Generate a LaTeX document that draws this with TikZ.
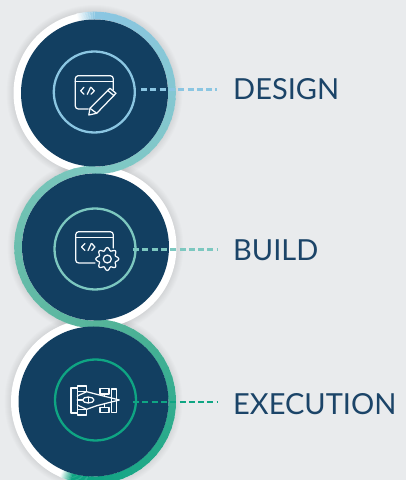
\documentclass[tikz,border=0pt]{standalone}
\usepackage{fontspec}
\setmainfont{Lato}
\usetikzlibrary{calc}
\definecolor{pagebg}{HTML}{E9EBED}
\definecolor{discblue}{HTML}{123F61}
\definecolor{labelblue}{HTML}{1B4468}
\definecolor{designcol}{HTML}{8BC6E2}
\definecolor{buildcol}{HTML}{7DC8C0}
\definecolor{midcol}{HTML}{56B49A}
\definecolor{execcol}{HTML}{0FA583}
\tikzset{
	disc/.style={circle, fill=discblue, inner sep=0pt, minimum size=#1},
	whitering/.style={circle, fill=white, inner sep=0pt, minimum size=#1},
	innerring/.style={circle, draw=#1, line width=2.3pt, inner sep=0pt, minimum size=81pt},
	stagelabel/.style={anchor=west, inner sep=0pt, text=labelblue, font=\fontsize{29pt}{32pt}\selectfont},
	dashline/.style={draw=#1, line width=2.6pt, dash pattern=on 6pt off 3.3pt},
	icon/.style={draw=white!92!designcol, line width=1.25pt, line join=round, line cap=round},
}
% soft shadow under a white ring
\newcommand{\softshadow}[2]{
	\foreach \grow in {0,1,...,7}
		\fill[black, opacity=.012] (#1) circle (#2pt+\grow pt);
}
% one coloured band, in short pieces: centre, radius, from, to, colour a, colour b
\newcommand{\bandarc}[6]{
	\foreach \pc in {0,4,...,96} {
		\pgfmathsetmacro{\from}{#3+(#4-#3)/100*\pc}
		\pgfmathsetmacro{\upto}{#3+(#4-#3)/100*(\pc+5)}
		\draw[#6!\pc!#5, line width=7.6pt] ($(#1)+(\from:#2)$) arc[start angle=\from, end angle=\upto, radius=#2];
	}
}
\begin{document}
\begin{tikzpicture}[x=1pt, y=1pt]
	\useasboundingbox (0,0) rectangle (406,480);
	\clip (0,0) rectangle (406,480);
	\fill[pagebg] (0,0) rectangle (406,480);
	\coordinate (c1) at (94.5,387);
	\coordinate (c2) at (95.5,233);
	\coordinate (c3) at (93.5,78.5);

	\softshadow{c1}{81}
	\softshadow{c2}{81}
	\softshadow{c3}{82}
	\node[whitering=162pt] (whiteone) at (c1) {};
	\node[whitering=162pt] (whitetwo) at (c2) {};
	\node[whitering=165pt] (whitethree) at (c3) {};

	% the band runs on from ring to ring
	\bandarc{c1}{77.5}{103}{90}{white}{designcol}
	\bandarc{c1}{77.5}{90}{-90}{designcol}{buildcol}
	\bandarc{c2}{77.5}{90}{270}{buildcol}{midcol}
	\bandarc{c3}{78.7}{90}{-90}{midcol}{execcol}
	\bandarc{c3}{78.7}{-90}{-106}{execcol}{execcol}
	\bandarc{c3}{78.7}{-106}{-114}{execcol}{white}

	\node[disc=147pt] (design) at (c1) {};
	\node[disc=147pt] (build) at (c2) {};
	\node[disc=150pt] (execution) at (c3) {};

	\node[innerring=designcol] (designring) at (94.3,388) {};
	\node[innerring=buildcol] (buildring) at (95,231) {};
	\node[innerring=execcol] (executionring) at (95.5,80) {};

	\node[stagelabel] (designlabel) at (233,391) {DESIGN};
	\node[stagelabel] (buildlabel) at (233,230) {BUILD};
	\node[stagelabel] (executionlabel) at (233,76) {EXECUTION};

	\coordinate (designstart) at (141,390.7);
	\coordinate (designend) at (217,390.7);
	\coordinate (buildstart) at (133,230.5);
	\coordinate (buildend) at (217,230.5);
	\coordinate (executionstart) at (133,78);
	\coordinate (executionend) at (217,78);
	\draw[dashline=designcol] (designstart) -- (designend);
	\draw[dashline=buildcol] (buildstart) -- (buildend);
	\draw[dashline=execcol] (executionstart) -- (executionend);

	% design icon
	\begin{scope}[shift={(designring.center)}, icon]
		\draw (-6,-17) -- (-16,-17) arc[start angle=270, end angle=180, radius=3] -- (-19,13.3) arc[start angle=180, end angle=90, radius=3] -- (16,16.3) arc[start angle=90, end angle=0, radius=3] -- (19,2);
		\draw (-19,10.3) -- (19,10.3);
		\draw (-10.3,4.7) -- (-13.6,1.2) -- (-10.3,-2.3);
		\draw (-3.7,4.7) -- (-7,-2.3);
		\draw (-3.3,4.7) -- (0,1.2) -- (-3.3,-2.3);
		\draw (-5.5,-23) -- (-4.3,-16.3) -- (15.7,3.7) -- (21.7,-1.3) -- (2.4,-21.3) -- cycle;
		\draw (13.4,1.6) -- (19.7,-3.7);
		\draw (-4.3,-16.3) -- (2.4,-21.3);
	\end{scope}
	% build icon
	\begin{scope}[shift={(buildring.center)}, icon]
		\draw (0,-14) -- (-16.3,-14) arc[start angle=270, end angle=180, radius=3] -- (-19.3,14.3) arc[start angle=180, end angle=90, radius=3] -- (15.3,17.3) arc[start angle=90, end angle=0, radius=3] -- (18.3,1);
		\draw (-19.3,11.7) -- (18.3,11.7);
		\draw (-10,5.5) -- (-13.5,2) -- (-10,-1.5);
		\draw (-3.7,5.5) -- (-7,-1.5);
		\draw (-3.3,5.5) -- (0,2) -- (-3.3,-1.5);
		\draw[shift={(12.3,-10)}] plot[smooth cycle, samples=64, domain=0:354.375] ({\x}:{10+1.5*cos(8*\x)});
		\draw (12.3,-10) circle (4);
	\end{scope}
	% execution icon
	\begin{scope}[shift={(executionring.center)}, icon]
		\draw (-24.5,-13) rectangle (-18.2,12);
		\draw (-18.2,14) rectangle (-8.8,8.3);
		\draw (-18.2,-9.3) rectangle (-8.8,-15);
		\draw (4.5,11.7) rectangle (13.5,6);
		\draw (4.5,-7.3) rectangle (13.5,-12.7);
		\draw (16.2,11) rectangle (21.2,-12.7);
		\draw (-18.2,4) -- (-8.8,8.3) -- (1.2,5.7) -- (23.8,0) -- (1.2,-5.7) -- (-8.8,-9.3) -- (-18.2,-5);
		\draw (9,6) -- (9,3.6) (9,-7.3) -- (9,-3.6);
		\draw (-18.2,0) -- (-13,0);
		\draw (-7.2,0) ellipse (5.7 and 3);
		\draw (-7,2.5) -- (-7,-2.5);
	\end{scope}
\end{tikzpicture}
\end{document}
